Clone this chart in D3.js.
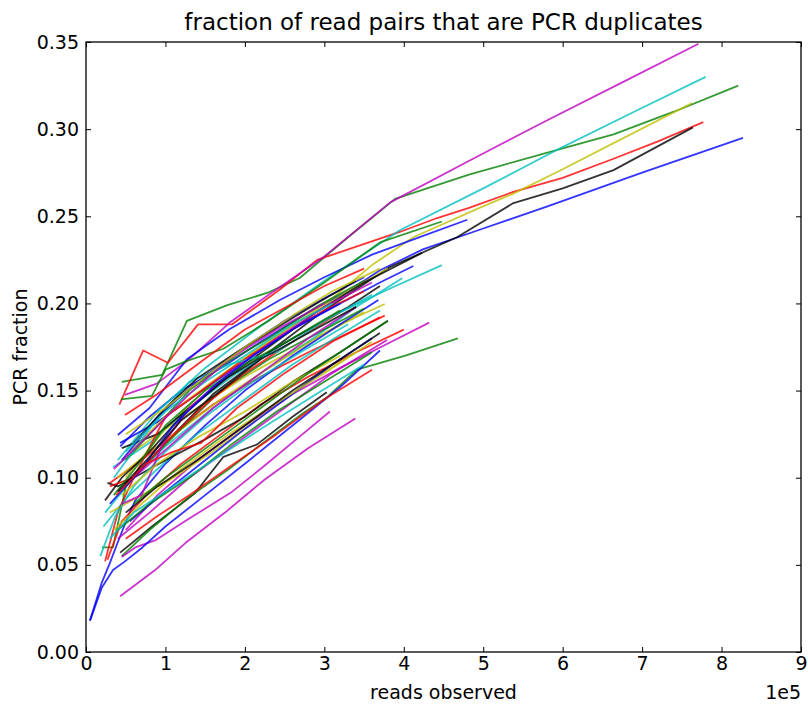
<!DOCTYPE html>
<html>
<head>
<meta charset="utf-8">
<script src="https://cdn.jsdelivr.net/npm/d3@7"></script>
<style>
  body { margin: 0; background: #fff; }
  text { font-family: "DejaVu Sans", sans-serif; }
</style>
</head>
<body>
<div id="container"></div>
<script>
/* ---------- DATA (x in units of 1e5 reads, y = PCR fraction) ---------- */
const blueRuns = [
  [[0.43,0.118],[0.8,0.135],[1.2,0.15],[1.7,0.163],[2.2,0.178],[2.8,0.195],[3.3,0.207],[3.7,0.219],[4.24,0.231],[5.0,0.243],[5.8,0.2555],[7.0,0.275],[8.27,0.295]],
  [[0.40,0.1245],[0.8,0.14],[1.27,0.168],[1.8,0.185],[2.44,0.202],[3.0,0.215],[3.6,0.228],[4.2,0.238],[4.80,0.248]],
  [[0.43,0.12],[0.9,0.132],[1.4,0.148],[2.0,0.167],[2.6,0.185],[3.2,0.2],[3.7,0.212],[4.12,0.2215]],
  [[0.05,0.018],[0.2,0.04],[0.3,0.051],[0.4,0.063],[0.53,0.078],[0.62,0.087],[1.0,0.108],[1.5,0.13],[2.0,0.15],[2.6,0.17],[3.2,0.188],[3.68,0.202]],
  [[0.05,0.018],[0.2,0.037],[0.34,0.047],[0.49,0.052],[0.71,0.06],[1.0,0.072],[1.5,0.09],[2.0,0.108],[2.6,0.13],[3.2,0.152],[3.70,0.173]],
  [[0.55,0.075],[1.0,0.092],[1.5,0.11],[2.0,0.128],[2.6,0.148],[3.1,0.165],[3.6,0.18]],
  [[0.45,0.11],[0.9,0.135],[1.4,0.155],[1.9,0.172],[2.5,0.19],[3.0,0.203],[3.5,0.215]],
  [[0.3,0.085],[0.7,0.105],[1.1,0.13],[1.6,0.152],[2.1,0.17],[2.7,0.188],[3.2,0.2]]
];
const greenRuns = [
  [[0.45,0.155],[0.96,0.159],[1.27,0.19],[1.78,0.199],[2.28,0.206],[2.69,0.2146],[3.3,0.238],[3.89,0.26],[4.83,0.274],[6.0,0.289],[6.64,0.297],[7.4,0.31],[8.21,0.325]],
  [[0.44,0.145],[0.83,0.147],[1.0,0.162],[1.27,0.167],[1.73,0.174],[2.3,0.19],[3.0,0.212],[3.7,0.235],[4.48,0.247]],
  [[0.45,0.055],[0.8,0.07],[1.27,0.088],[1.8,0.105],[2.23,0.12],[2.73,0.137],[3.03,0.146],[3.41,0.162],[4.02,0.17],[4.68,0.18]],
  [[0.2,0.06],[0.34,0.06],[0.5,0.095],[0.8,0.11],[1.2,0.128],[1.7,0.15],[2.3,0.168],[3.0,0.185],[3.5,0.197]],
  [[0.5,0.11],[0.9,0.13],[1.3,0.15],[1.8,0.167],[2.3,0.18],[2.9,0.198],[3.5,0.213]],
  [[0.4,0.07],[0.8,0.085],[1.3,0.1],[1.8,0.118],[2.4,0.138],[3.0,0.155],[3.6,0.172]],
  [[0.35,0.09],[0.7,0.11],[1.0,0.13],[1.5,0.15],[2.0,0.165],[2.6,0.18],[3.2,0.196]],
  [[0.6,0.085],[1.0,0.1],[1.6,0.12],[2.2,0.14],[2.8,0.16],[3.4,0.178],[3.8,0.19]]
];
const redRuns = [
  [[0.42,0.142],[0.72,0.173],[1.03,0.166],[1.41,0.188],[1.84,0.188],[2.44,0.208],[2.91,0.225],[3.95,0.241],[4.42,0.249],[4.83,0.255],[5.38,0.264],[6.0,0.272],[6.64,0.283],[7.2,0.293],[7.77,0.304]],
  [[0.49,0.136],[0.9,0.148],[1.4,0.165],[2.0,0.185],[2.6,0.2],[3.0,0.21],[3.5,0.22]],
  [[0.3,0.097],[0.7,0.11],[1.1,0.125],[1.6,0.142],[2.2,0.158],[2.8,0.172],[3.3,0.183],[3.76,0.193]],
  [[0.27,0.053],[0.45,0.075],[0.8,0.092],[1.2,0.108],[1.7,0.125],[2.2,0.142],[2.8,0.158],[3.4,0.172],[4.0,0.185]],
  [[0.24,0.052],[0.4,0.08],[0.6,0.1],[1.0,0.12],[1.5,0.142],[2.0,0.16],[2.6,0.178],[3.2,0.195]],
  [[0.3,0.095],[0.6,0.1],[1.0,0.135],[1.4,0.148],[1.9,0.165],[2.4,0.18],[3.0,0.196],[3.5,0.207]],
  [[0.5,0.065],[0.9,0.078],[1.3,0.09],[1.8,0.106],[2.4,0.125],[3.0,0.145],[3.6,0.162]],
  [[0.38,0.09],[0.75,0.108],[1.1,0.115],[1.45,0.12],[1.9,0.14],[2.5,0.16],[3.1,0.178],[3.7,0.192]]
];
const cyanRuns = [
  [[0.4,0.11],[0.9,0.138],[1.5,0.163],[2.2,0.187],[3.0,0.213],[3.95,0.242],[5.0,0.266],[6.01,0.29],[6.9,0.31],[7.8,0.33]],
  [[0.34,0.106],[0.8,0.12],[1.3,0.14],[1.9,0.16],[2.6,0.18],[3.2,0.195],[3.8,0.208],[4.48,0.222]],
  [[0.24,0.08],[0.6,0.1],[1.0,0.118],[1.6,0.14],[2.2,0.16],[2.8,0.178],[3.4,0.198],[3.98,0.2145]],
  [[0.22,0.072],[0.5,0.088],[0.9,0.105],[1.4,0.125],[2.0,0.145],[2.6,0.165],[3.2,0.182],[3.7,0.196]],
  [[0.18,0.055],[0.37,0.078],[0.6,0.095],[1.0,0.115],[1.5,0.135],[2.1,0.155],[2.7,0.172],[3.3,0.188]],
  [[0.35,0.1],[0.8,0.128],[1.3,0.155],[1.8,0.165],[2.4,0.172],[3.0,0.19],[3.6,0.205]],
  [[0.3,0.065],[0.6,0.08],[1.0,0.092],[1.6,0.11],[2.2,0.128],[2.9,0.148],[3.5,0.165]],
  [[0.5,0.115],[1.0,0.138],[1.5,0.155],[2.0,0.17],[2.6,0.188],[3.1,0.2]]
];
const magentaRuns = [
  [[0.49,0.1475],[0.89,0.154],[1.3,0.168],[1.81,0.189],[2.3,0.205],[2.99,0.2266],[3.83,0.258],[4.83,0.282],[5.8,0.305],[6.8,0.328],[7.71,0.349]],
  [[0.43,0.032],[0.87,0.047],[1.25,0.0625],[1.75,0.08],[2.25,0.099],[2.8,0.117],[3.39,0.134]],
  [[0.45,0.0545],[0.62,0.06],[0.87,0.064],[1.27,0.0757],[1.84,0.092],[2.25,0.107],[2.7,0.124],[3.07,0.138]],
  [[0.5,0.07],[0.9,0.09],[1.4,0.11],[2.0,0.13],[2.6,0.148],[3.2,0.163],[3.8,0.177],[4.32,0.189]],
  [[0.4,0.065],[0.8,0.08],[1.3,0.1],[1.9,0.12],[2.5,0.14],[3.1,0.16],[3.79,0.179]],
  [[0.45,0.085],[0.7,0.09],[0.95,0.118],[1.3,0.14],[1.8,0.16],[2.4,0.18],[3.0,0.198],[3.6,0.212]],
  [[0.6,0.1],[1.1,0.12],[1.6,0.14],[2.2,0.16],[2.8,0.18],[3.4,0.198]],
  [[0.35,0.105],[0.8,0.125],[1.3,0.148],[1.8,0.168],[2.4,0.185],[3.0,0.2]]
];
const yellowRuns = [
  [[0.5,0.1],[1.0,0.128],[1.6,0.155],[2.3,0.178],[3.1,0.203],[3.6,0.222],[4.12,0.238],[4.96,0.255],[5.38,0.263],[6.0,0.277],[6.64,0.292],[7.63,0.315]],
  [[0.45,0.11],[0.9,0.125],[1.4,0.14],[2.0,0.158],[2.6,0.173],[3.2,0.188],[3.76,0.1997]],
  [[0.4,0.1],[0.8,0.115],[1.2,0.128],[1.7,0.145],[2.3,0.163],[2.9,0.18],[3.5,0.195]],
  [[0.3,0.08],[0.7,0.09],[1.1,0.1],[1.6,0.115],[2.2,0.135],[2.8,0.155],[3.4,0.172]],
  [[0.55,0.115],[1.0,0.135],[1.5,0.152],[2.1,0.172],[2.7,0.19],[3.3,0.207],[3.8,0.22]],
  [[0.35,0.07],[0.7,0.085],[1.2,0.105],[1.8,0.125],[2.4,0.143],[3.0,0.16],[3.6,0.178]],
  [[0.45,0.09],[0.9,0.108],[1.4,0.123],[2.0,0.138],[2.6,0.155],[3.2,0.17]],
  [[0.5,0.125],[1.0,0.14],[1.5,0.158],[2.0,0.175],[2.6,0.193],[3.1,0.207],[3.7,0.22]]
];
const blackRuns = [
  [[0.5,0.095],[1.0,0.12],[1.6,0.148],[2.3,0.172],[3.0,0.196],[3.83,0.221],[4.67,0.238],[5.38,0.2576],[6.0,0.266],[6.64,0.2765],[7.64,0.301]],
  [[0.43,0.057],[0.83,0.072],[1.37,0.091],[1.73,0.112],[2.15,0.119],[2.6,0.135],[3.03,0.149]],
  [[0.45,0.117],[0.9,0.125],[1.3,0.14],[1.8,0.158],[2.3,0.172],[2.8,0.185],[3.3,0.198],[3.70,0.21]],
  [[0.27,0.097],[0.4,0.095],[0.6,0.1],[1.0,0.11],[1.5,0.122],[2.0,0.135],[2.6,0.155],[3.2,0.172],[3.8,0.19]],
  [[0.24,0.087],[0.45,0.1],[0.8,0.115],[1.2,0.135],[1.7,0.155],[2.3,0.175],[2.9,0.195],[3.5,0.212],[4.23,0.229]],
  [[0.5,0.08],[0.9,0.095],[1.4,0.11],[2.0,0.13],[2.6,0.15],[3.2,0.168],[3.7,0.183]],
  [[0.6,0.12],[1.0,0.14],[1.4,0.157],[1.9,0.172],[2.4,0.186],[2.9,0.2],[3.4,0.213]],
  [[0.4,0.092],[0.8,0.112],[1.2,0.133],[1.7,0.15],[2.2,0.168],[2.8,0.183],[3.4,0.198]]
];
const xTicks = [0, 1, 2, 3, 4, 5, 6, 7, 8, 9];
const yTicks = [0, 0.05, 0.10, 0.15, 0.20, 0.25, 0.30, 0.35];

/* ---------- CONSTANTS ---------- */
const width = 808, height = 707,
  margin = { top: 42, right: 7, bottom: 55, left: 86 };
const colorCycle = [
  ["#0000ff", blueRuns], ["#008000", greenRuns], ["#ff0000", redRuns],
  ["#00bfbf", cyanRuns], ["#bf00bf", magentaRuns], ["#bfbf00", yellowRuns], ["#000000", blackRuns]
];

// interleave runs in matplotlib's b,g,r,c,m,y,k order
const runs = [];
for (let i = 0; i < 8; i++) {
  colorCycle.forEach(([color, list]) => {
    if (list[i]) runs.push({ color, pts: list[i] });
  });
}

const xScale = d3.scaleLinear().domain([0, 9]).range([margin.left, width - margin.right]);
const yScale = d3.scaleLinear().domain([0, 0.35]).range([height - margin.bottom, margin.top]);

const svg = d3.select("#container").append("svg")
  .attr("width", width)
  .attr("height", height);

svg.append("rect").attr("width", width).attr("height", height).attr("fill", "#fff");

// clip to the axes box
svg.append("clipPath").attr("id", "clip")
  .append("rect")
  .attr("x", margin.left).attr("y", margin.top)
  .attr("width", width - margin.left - margin.right)
  .attr("height", height - margin.top - margin.bottom);

const line = d3.line().x(d => xScale(d[0])).y(d => yScale(d[1]));

svg.append("g")
  .attr("clip-path", "url(#clip)")
  .selectAll("path")
  .data(runs)
  .join("path")
  .attr("d", d => line(d.pts))
  .attr("fill", "none")
  .attr("stroke", d => d.color)
  .attr("stroke-opacity", 0.8)
  .attr("stroke-width", 1.8)
  .attr("stroke-linejoin", "round");

// + AXES (inward ticks on all four sides, classic style)
const fmtY = d3.format(".2f");
const styleAxis = g => {
  g.select(".domain").remove();
  g.selectAll(".tick line").attr("stroke", "#000").attr("stroke-width", 1);
  g.selectAll(".tick text").attr("fill", "#000").style("font-size", "19px");
};

svg.append("g")
  .attr("transform", `translate(0,${height - margin.bottom})`)
  .call(d3.axisBottom(xScale).tickValues(xTicks).tickFormat(d3.format("d"))
    .tickSizeInner(-5).tickSizeOuter(0).tickPadding(5))
  .call(styleAxis);

svg.append("g")
  .attr("transform", `translate(${margin.left},0)`)
  .call(d3.axisLeft(yScale).tickValues(yTicks).tickFormat(fmtY)
    .tickSizeInner(-5).tickSizeOuter(0).tickPadding(7))
  .call(styleAxis);

svg.append("g")
  .attr("transform", `translate(0,${margin.top})`)
  .call(d3.axisTop(xScale).tickValues(xTicks).tickFormat("")
    .tickSizeInner(-5).tickSizeOuter(0))
  .call(styleAxis);

svg.append("g")
  .attr("transform", `translate(${width - margin.right},0)`)
  .call(d3.axisRight(yScale).tickValues(yTicks).tickFormat("")
    .tickSizeInner(-5).tickSizeOuter(0))
  .call(styleAxis);

// frame
svg.append("rect")
  .attr("x", margin.left).attr("y", margin.top)
  .attr("width", width - margin.left - margin.right)
  .attr("height", height - margin.top - margin.bottom)
  .attr("fill", "none")
  .attr("stroke", "#000")
  .attr("stroke-width", 1.3);

// + LABELS
svg.append("text")
  .attr("x", (margin.left + width - margin.right) / 2)
  .attr("y", 30)
  .attr("text-anchor", "middle")
  .style("font-size", "23px")
  .text("fraction of read pairs that are PCR duplicates");

svg.append("text")
  .attr("x", (margin.left + width - margin.right) / 2)
  .attr("y", 699)
  .attr("text-anchor", "middle")
  .style("font-size", "19px")
  .text("reads observed");

svg.append("text")
  .attr("x", width - margin.right)
  .attr("y", 699)
  .attr("text-anchor", "end")
  .style("font-size", "19px")
  .text("1e5");

svg.append("text")
  .attr("transform", `translate(27,${(margin.top + height - margin.bottom) / 2}) rotate(-90)`)
  .attr("text-anchor", "middle")
  .style("font-size", "19px")
  .text("PCR fraction");
</script>
</body>
</html>
